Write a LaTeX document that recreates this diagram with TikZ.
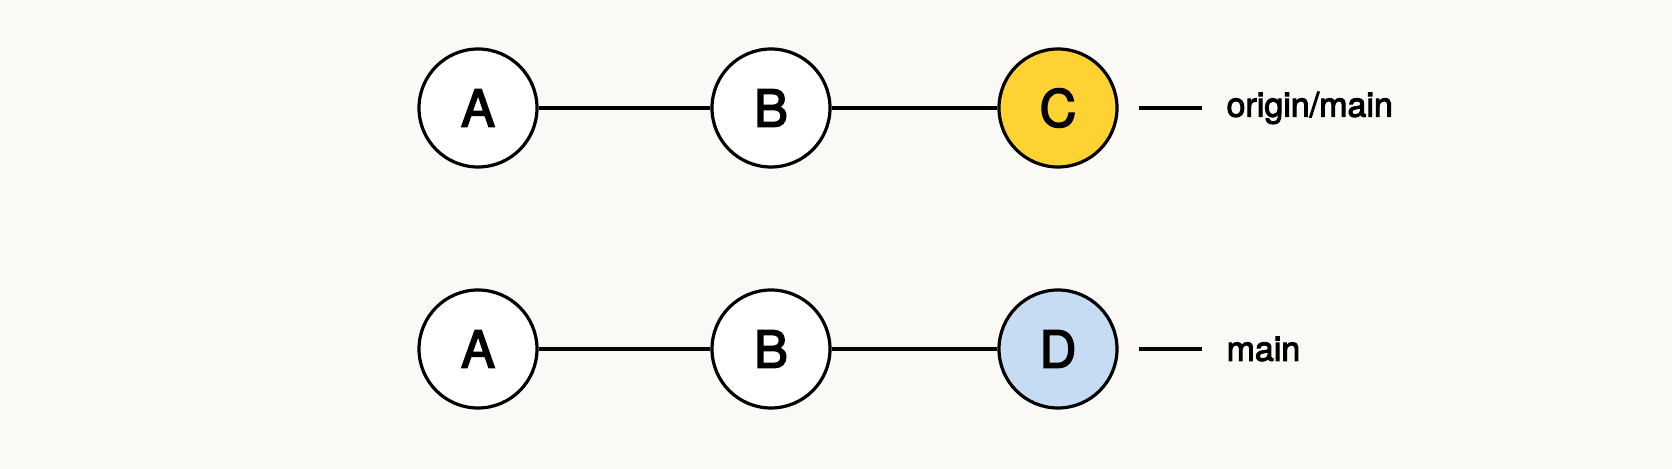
\documentclass[tikz,border=0pt]{standalone}
\usepackage{fontspec}
\setmainfont{TeX Gyre Heros}[FakeBold=3]
\definecolor{bgpaper}{HTML}{FAF9F6}
\definecolor{commityellow}{HTML}{FFD233}
\definecolor{commitblue}{HTML}{C6DCF3}

\begin{document}
\begin{tikzpicture}[x=0.5pt, y=-0.5pt, line width=1.6pt,
    commit/.style={circle, draw=black, fill=white, minimum size=59pt, inner sep=0pt, font=\fontsize{25.5}{28}\selectfont},
    branchlabel/.style={anchor=west, inner sep=0pt, font=\fontsize{17}{20}\selectfont}]
    % Fond
    \fill[bgpaper] (0,0) rectangle (1672,469);
    \useasboundingbox (0,0) rectangle (1672,469);

    % Ligne du haut (origin/main)
    \node[commit] (A1) at (478,108) {A};
    \node[commit] (B1) at (771,108) {B};
    \node[commit, fill=commityellow] (C) at (1058,108) {C};
    \draw (A1) -- (B1);
    \draw (B1) -- (C);

    % Etiquette origin/main
    \coordinate (Cs) at (1139,108);
    \coordinate (Ce) at (1202,108);
    \draw (Cs) -- (Ce);
    \node[branchlabel] (Corig) at (1225,108) {origin/main};

    % Ligne du bas (main)
    \node[commit] (A2) at (478,349) {A};
    \node[commit] (B2) at (771,349) {B};
    \node[commit, fill=commitblue] (D) at (1058,349) {D};
    \draw (A2) -- (B2);
    \draw (B2) -- (D);

    % Etiquette main
    \coordinate (Ds) at (1139,349);
    \coordinate (De) at (1202,349);
    \draw (Ds) -- (De);
    \node[branchlabel] (Dmain) at (1225,349) {main};
\end{tikzpicture}
\end{document}
